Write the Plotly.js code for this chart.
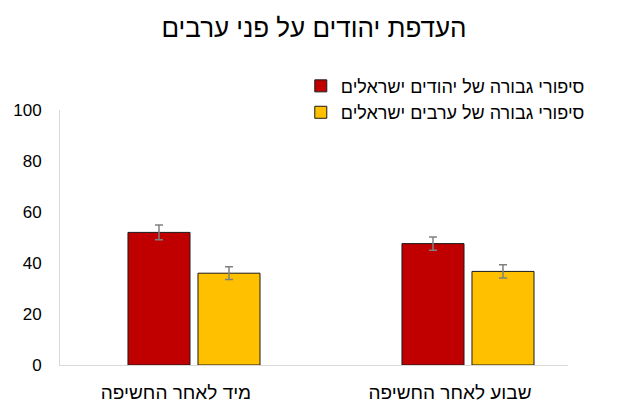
<!DOCTYPE html>
<html>
<head>
<meta charset="utf-8">
<script src="https://cdn.plot.ly/plotly-3.0.1.min.js"></script>
<style>
  body { margin: 0; background: #fff; }
  #chart { width: 624px; height: 416px; }
</style>
</head>
<body>
<div id="chart"></div>
<script>
var categories = ['מיד לאחר החשיפה', 'שבוע לאחר החשיפה'];
var jewishValues = [52.0, 47.6];
var jewishErrors = [2.9, 2.6];
var arabValues = [36.0, 36.7];
var arabErrors = [2.5, 2.6];
var yTicks = [0, 20, 40, 60, 80, 100];

var font = 'Liberation Sans, Arial, DejaVu Sans, sans-serif';

var trace1 = {
  x: categories,
  y: jewishValues,
  name: 'סיפורי גבורה של יהודים ישראלים',
  type: 'bar',
  marker: {
    color: '#C00000',
    line: { color: '#1a1a1a', width: 1 }
  },
  error_y: {
    type: 'data',
    array: jewishErrors,
    color: '#808080',
    thickness: 1.5,
    width: 4
  }
};

var trace2 = {
  x: categories,
  y: arabValues,
  name: 'סיפורי גבורה של ערבים ישראלים',
  type: 'bar',
  marker: {
    color: '#FFC000',
    line: { color: '#1a1a1a', width: 1 }
  },
  error_y: {
    type: 'data',
    array: arabErrors,
    color: '#808080',
    thickness: 1.5,
    width: 4
  }
};

var data = [trace1, trace2];

var layout = {
  width: 624,
  height: 416,
  margin: { l: 60, r: 56, t: 110, b: 51, autoexpand: false },
  paper_bgcolor: '#fff',
  plot_bgcolor: '#fff',
  font: { family: font, color: '#000' },
  title: {
    text: 'העדפת יהודים על פני ערבים',
    font: { family: font, size: 26, color: '#000' },
    x: 0.5,
    xref: 'paper',
    y: 0.932,
    yanchor: 'middle'
  },
  barmode: 'group',
  bargap: 0.489,
  bargroupgap: 0.114,
  showlegend: true,
  legend: {
    x: 0.474,
    xanchor: 'left',
    y: 1.166,
    yanchor: 'top',
    font: { family: font, size: 18, color: '#000' },
    bgcolor: 'rgba(0,0,0,0)',
    tracegroupgap: 0
  },
  xaxis: {
    type: 'category',
    range: [-0.489, 1.365],
    showline: true,
    linecolor: '#d9d9d9',
    linewidth: 1,
    showgrid: false,
    zeroline: false,
    ticks: 'outside',
    ticklen: 10,
    tickcolor: 'rgba(0,0,0,0)',
    ticklabelshift: -18,
    tickfont: { family: font, size: 19, color: '#000' },
    fixedrange: true
  },
  yaxis: {
    range: [0, 100],
    tickvals: yTicks,
    showline: true,
    linecolor: '#d9d9d9',
    linewidth: 1,
    showgrid: false,
    zeroline: false,
    ticks: 'outside',
    ticklen: 14,
    tickcolor: 'rgba(0,0,0,0)',
    tickfont: { family: font, size: 17, color: '#000' },
    fixedrange: true
  }
};

var config = { staticPlot: true, responsive: false };

Plotly.newPlot('chart', data, layout, config);
</script>
</body>
</html>
